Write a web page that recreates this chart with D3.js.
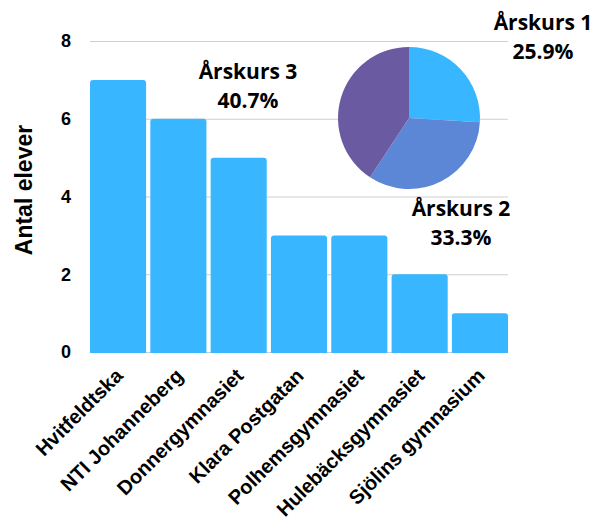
<!DOCTYPE html>
<html>
<head>
<meta charset="utf-8">
<script src="https://cdn.jsdelivr.net/npm/d3@7"></script>
<style>
  body { margin: 0; background: #fff; }
  svg { display: block; }
</style>
</head>
<body>
<div id="chart"><svg width="594" height="527"></svg></div>
<script>
// data
var schools = ['Hvitfeldtska', 'NTI Johanneberg', 'Donnergymnasiet', 'Klara Postgatan',
  'Polhemsgymnasiet', 'Hulebäcksgymnasiet', 'Sjölins gymnasium'];
var students = [7, 6, 5, 3, 3, 2, 1];
var yTicks = [0, 2, 4, 6, 8];
var grades = ['Årskurs 1', 'Årskurs 2', 'Årskurs 3'];
var gradeShare = [25.9, 33.3, 40.7];
var gradeColors = ['#38b6ff', '#5c87d6', '#6a5aa2'];

(function() {
  var svg = d3.select('svg'),
      plotLeft = 90, plotRight = 508, plotTop = 41, plotBottom = 352;

  var x = d3.scaleBand().domain(schools).range([plotLeft, plotRight]).paddingInner(0.07).paddingOuter(0.0);
  var y = d3.scaleLinear().domain([0, 8]).range([plotBottom, plotTop]);

  // gridlines
  svg.append('g').selectAll('line').data(yTicks).join('line')
    .attr('x1', plotLeft).attr('x2', plotRight)
    .attr('y1', function(d) { return y(d) + 0.5; })
    .attr('y2', function(d) { return y(d) + 0.5; })
    .attr('stroke', '#cfcfcf').attr('stroke-width', 1);

  // y tick labels
  svg.append('g').selectAll('text').data(yTicks).join('text')
    .attr('x', 71).attr('y', function(d) { return y(d); })
    .attr('dy', '0.36em')
    .attr('text-anchor', 'end')
    .style('font', 'bold 18px "Liberation Sans", Arial, sans-serif')
    .text(function(d) { return d; });

  // y title
  svg.append('text')
    .attr('transform', 'translate(32,' + 190 + ') rotate(-90)')
    .attr('text-anchor', 'middle')
    .style('font', 'bold 23px "Liberation Sans", Arial, sans-serif')
    .text('Antal elever');

  // bars with rounded tops
  var r = 3;
  svg.append('g').selectAll('path').data(schools).join('path')
    .attr('fill', '#38b6ff')
    .attr('d', function(d, i) {
      var x0 = x(d), w = x.bandwidth(), y0 = y(students[i]), y1 = y(0) + 1;
      return 'M' + x0 + ',' + y1 + 'V' + (y0 + r) + 'Q' + x0 + ',' + y0 + ' ' + (x0 + r) + ',' + y0 +
        'H' + (x0 + w - r) + 'Q' + (x0 + w) + ',' + y0 + ' ' + (x0 + w) + ',' + (y0 + r) + 'V' + y1 + 'Z';
    });

  // category labels
  svg.append('g').selectAll('text').data(schools).join('text')
    .attr('transform', function(d) {
      return 'translate(' + (x(d) + x.bandwidth() / 2 + 6) + ',' + 377 + ') rotate(-45)';
    })
    .attr('text-anchor', 'end')
    .style('font', 'bold 20px "Liberation Sans", Arial, sans-serif')
    .text(function(d) { return d; });

  // pie
  var pie = d3.pie().sort(null)(gradeShare);
  var arc = d3.arc().innerRadius(0).outerRadius(71);
  svg.append('g').attr('transform', 'translate(409,118)')
    .selectAll('path').data(pie).join('path')
    .attr('d', arc)
    .attr('fill', function(d, i) { return gradeColors[i]; });

  // pie labels
  var labelPos = [[543, 30], [461, 216], [248, 79]];
  var lab = svg.append('g').selectAll('text').data(grades).join('text')
    .attr('text-anchor', 'middle')
    .style('font', 'bold 21px "Open Sans", "Noto Sans", sans-serif')
    .attr('x', function(d, i) { return labelPos[i][0]; })
    .attr('y', function(d, i) { return labelPos[i][1]; });
  lab.append('tspan').text(function(d) { return d; });
  lab.append('tspan')
    .attr('x', function(d, i) { return labelPos[i][0]; })
    .attr('dy', 29)
    .text(function(d, i) { return gradeShare[i].toFixed(1) + '%'; });
})();
</script>
</body>
</html>
